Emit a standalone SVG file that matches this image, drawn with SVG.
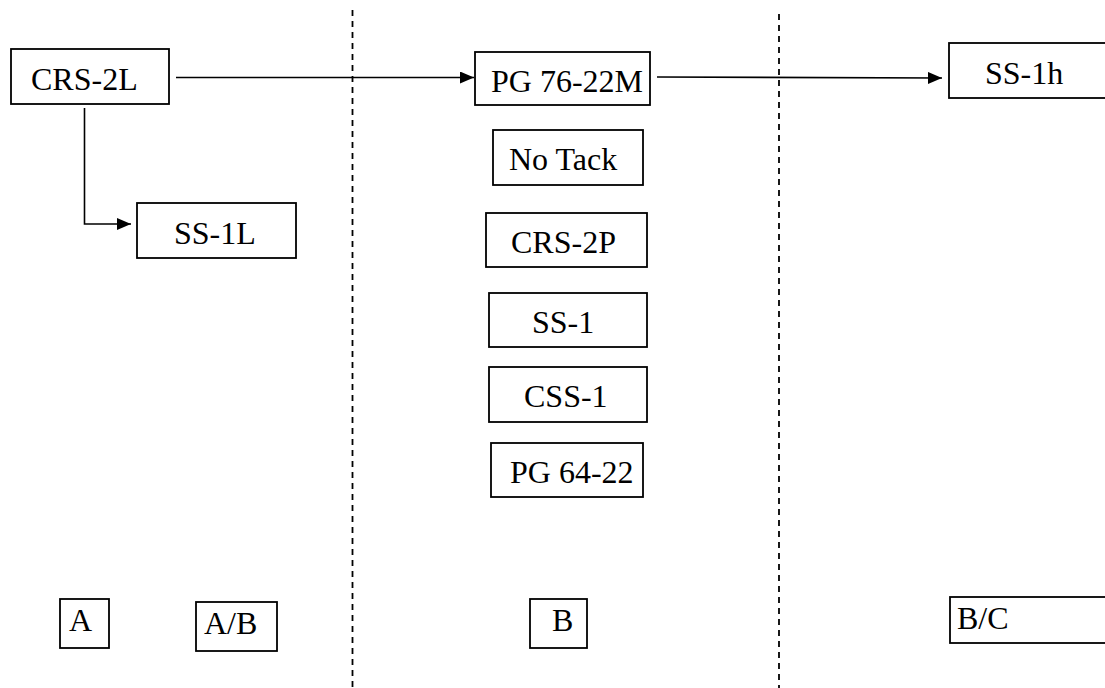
<svg xmlns="http://www.w3.org/2000/svg" width="1105" height="688" viewBox="0 0 1105 688">
<style>
.box{fill:#fff;stroke:#000;stroke-width:1.8}
.t{font-family:"Liberation Serif","Times New Roman",serif;font-size:32px;fill:#000}
.c{fill:none;stroke:#000;stroke-width:1.6}
.d{fill:none;stroke:#000;stroke-width:1.8;stroke-dasharray:6,5}
</style>
<defs>
<marker id="ah" viewBox="0 0 14 12" refX="14" refY="6" markerWidth="14" markerHeight="12" markerUnits="userSpaceOnUse" orient="auto">
<path d="M0,0 L14,6 L0,12 z" fill="#000"/>
</marker>
</defs>
<rect width="1105" height="688" fill="#fff"/>
<g id="dividers">
<line class="d" x1="352.5" y1="10" x2="352.5" y2="688"/>
<line class="d" x1="779" y1="14" x2="779" y2="688"/>
</g>
<g id="connectors">
<line class="c" x1="176" y1="77.5" x2="474" y2="77.5" marker-end="url(#ah)"/>
<line class="c" x1="657" y1="77" x2="942" y2="78" marker-end="url(#ah)"/>
<polyline class="c" points="84.5,108 84.5,224 131,224" marker-end="url(#ah)"/>
</g>
<g id="n-crs2l"><rect class="box" x="11" y="49" width="158" height="55"/><text class="t" x="31" y="90">CRS-2L</text></g>
<g id="n-ss1l"><rect class="box" x="137" y="203" width="159" height="55"/><text class="t" x="174" y="244">SS-1L</text></g>
<g id="n-pg7622m"><rect class="box" x="475" y="52" width="175" height="53"/><text class="t" x="491" y="92">PG 76-22M</text></g>
<g id="n-ss1h"><rect class="box" x="949" y="43" width="160" height="55"/><text class="t" x="985" y="84">SS-1h</text></g>
<g id="n-notack"><rect class="box" x="493" y="130" width="150" height="55"/><text class="t" x="509" y="170">No Tack</text></g>
<g id="n-crs2p"><rect class="box" x="486" y="213" width="161" height="54"/><text class="t" x="511" y="253">CRS-2P</text></g>
<g id="n-ss1"><rect class="box" x="489" y="293" width="158" height="54"/><text class="t" x="532" y="333">SS-1</text></g>
<g id="n-css1"><rect class="box" x="489" y="367" width="158" height="55"/><text class="t" x="524" y="407">CSS-1</text></g>
<g id="n-pg6422"><rect class="box" x="491" y="443" width="152" height="54"/><text class="t" x="510" y="483">PG 64-22</text></g>
<g id="n-a"><rect class="box" x="60" y="599" width="49" height="49"/><text class="t" x="69" y="631">A</text></g>
<g id="n-ab"><rect class="box" x="196" y="602" width="81" height="49"/><text class="t" x="204" y="634">A/B</text></g>
<g id="n-b"><rect class="box" x="530" y="599" width="57" height="49"/><text class="t" x="552" y="631">B</text></g>
<g id="n-bc"><rect class="box" x="950" y="597" width="160" height="46"/><text class="t" x="957" y="629">B/C</text></g>
</svg>
